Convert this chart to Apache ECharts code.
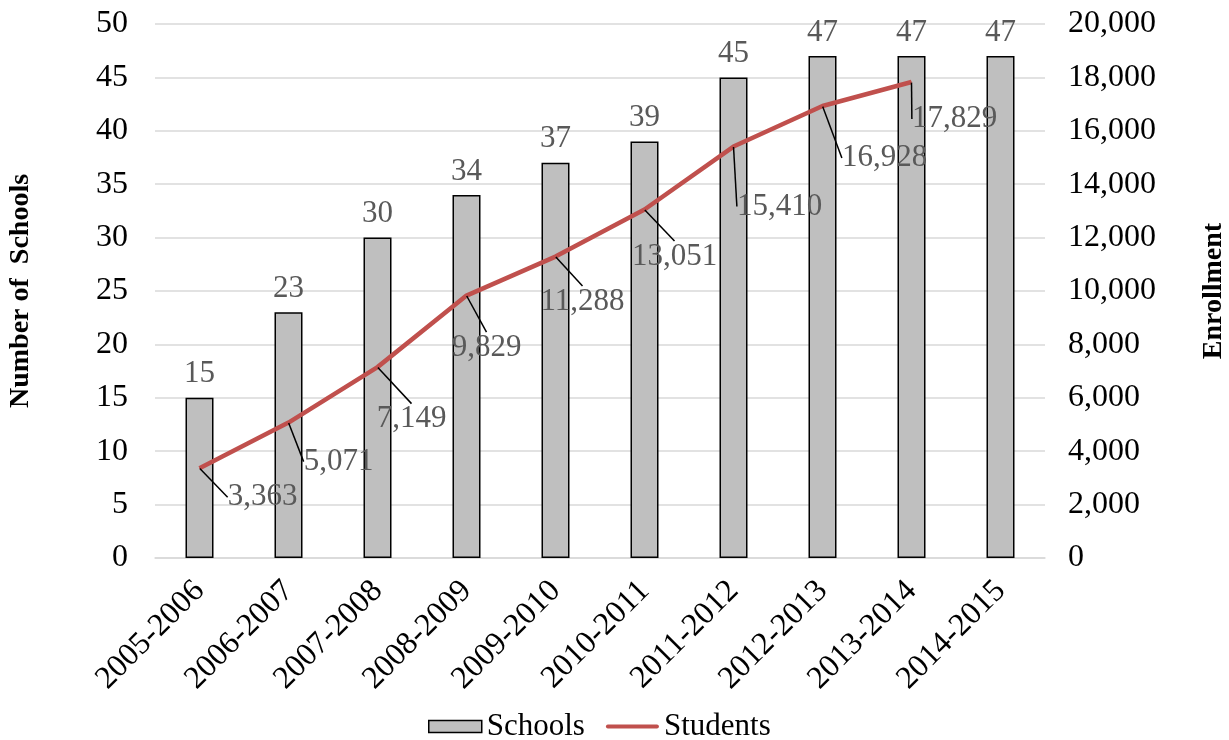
<!DOCTYPE html>
<html>
<head>
<meta charset="utf-8">
<script src="https://cdn.jsdelivr.net/npm/echarts@6/dist/echarts.min.js"></script>
<style>
  html, body { margin: 0; padding: 0; background: #fff; }
  #chart { width: 1229px; height: 740px; }
</style>
</head>
<body>
<div id="chart"></div>
<script>
// 学年
var years = ['2005-2006', '2006-2007', '2007-2008', '2008-2009', '2009-2010',
  '2010-2011', '2011-2012', '2012-2013', '2013-2014', '2014-2015']
var schools = [15, 23, 30, 34, 37, 39, 45, 47, 47, 47]
var students = [3363, 5071, 7149, 9829, 11288, 13051, 15410, 16928, 17829, null]

// label offsets for the Students labels (leader lines)
var labelShift = [[63, 29], [50, 39], [34, 52], [20, 52], [27, 45], [30, 47], [46, 60], [62, 52], [43, 37]]

var font = 'Liberation Serif, Times New Roman, serif'
var chart = echarts.init(document.getElementById('chart'))

var option = {
  animation: false,
  textStyle: { fontFamily: font },
  grid: { left: 155, right: 184, top: 24, bottom: 182, containLabel: false, outerBoundsMode: 'none' },
  legend: {
    top: 706,
    left: 423,
    itemWidth: 53,
    itemHeight: 12,
    itemGap: 21,
    textStyle: { fontFamily: font, fontSize: 31, color: '#000' },
    data: [
      { name: 'Schools', icon: 'rect', itemStyle: { color: '#BFBFBF', borderColor: '#000', borderWidth: 1.5 } },
      { name: 'Students', icon: 'path://M2,0 L52,0 A2,2 0 0 1 52,4 L2,4 A2,2 0 0 1 2,0 Z', itemStyle: { color: '#C0504D' } }
    ]
  },
  xAxis: {
    type: 'category',
    data: years,
    axisLine: { lineStyle: { color: '#D9D9D9', width: 1.5 } },
    axisTick: { show: false },
    axisLabel: {
      interval: 0,
      rotate: 45,
      margin: 28,
      fontFamily: font,
      fontSize: 32,
      color: '#000'
    }
  },
  yAxis: [
    {
      type: 'value',
      min: 0,
      max: 50,
      interval: 5,
      name: 'Number of  Schools',
      nameLocation: 'middle',
      nameGap: 120,
      nameTextStyle: { fontFamily: font, fontSize: 28, fontWeight: 'bold', color: '#000' },
      axisLine: { show: false },
      axisTick: { show: false },
      axisLabel: { fontFamily: font, fontSize: 32, color: '#000', margin: 27 },
      splitLine: { lineStyle: { color: '#D9D9D9', width: 1.5 } }
    },
    {
      type: 'value',
      min: 0,
      max: 20000,
      interval: 2000,
      name: 'Enrollment',
      nameLocation: 'middle',
      nameGap: 155,
      nameRotate: 90,
      nameTextStyle: { fontFamily: font, fontSize: 28, fontWeight: 'bold', color: '#000' },
      axisLine: { show: false },
      axisTick: { show: false },
      axisLabel: {
        fontFamily: font,
        fontSize: 32,
        color: '#000',
        margin: 23,
        formatter: function (v) { return v.toLocaleString('en-US') }
      },
      splitLine: { show: false }
    }
  ],
  series: [
    {
      name: 'Schools',
      type: 'bar',
      data: schools,
      barWidth: 28,
      itemStyle: { color: '#BFBFBF', borderColor: '#000', borderWidth: 1.5 },
      label: {
        show: true,
        position: 'top',
        distance: 8,
        fontFamily: font,
        fontSize: 31,
        color: '#595959'
      }
    },
    {
      name: 'Students',
      type: 'line',
      yAxisIndex: 1,
      data: students,
      symbol: 'circle',
      symbolSize: 1,
      itemStyle: { color: '#C0504D' },
      lineStyle: { color: '#C0504D', width: 4.5 },
      label: {
        show: true,
        position: 'inside',
        fontFamily: font,
        fontSize: 31,
        color: '#595959',
        formatter: function (p) { return p.value.toLocaleString('en-US') }
      },
      labelLine: { show: true, lineStyle: { color: '#000', width: 1.5 } },
      labelLayout: function (params) {
        var s = labelShift[params.dataIndex] || [0, 0]
        return { dx: s[0], dy: s[1] }
      },
      z: 3
    }
  ]
}
chart.setOption(option)
</script>
</body>
</html>
